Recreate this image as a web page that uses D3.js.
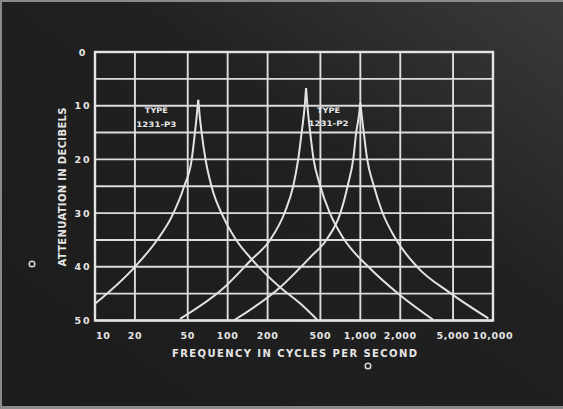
<!DOCTYPE html>
<html>
<head>
<meta charset="utf-8">
<script src="https://cdn.jsdelivr.net/npm/d3@7"></script>
<style>
  html, body { margin: 0; padding: 0; background: #cfcfcf; }
  svg { display: block; }
  text { font-family: "DejaVu Sans", "Liberation Sans", sans-serif; font-weight: bold; fill: #e6e6e6; }
</style>
</head>
<body>
<svg id="chart" width="563" height="409"></svg>
<script>
// ---- Data (frequency in c/s, attenuation in dB) ----
const xTickValues = [10, 20, 50, 100, 200, 500, 1000, 2000, 5000, 10000];
const xTickLabels = ["10", "20", "50", "100", "200", "500", "1,000", "2,000", "5,000", "10,000"];
const yTickValues = [0, 10, 20, 30, 40, 50];
const yTickLabels = ["0", "10", "20", "30", "40", "50"];
const yGridValues = [0, 5, 10, 15, 20, 25, 30, 35, 40, 45, 50];

// Type 1231-P3 (peak near 60 c/s)
const curveP3 = [
  [10.1, 46.8], [20.0, 40.0], [29.4, 35.0], [37.8, 30.7], [47.0, 25.0],
  [53.5, 20.1], [56.6, 15.1], [58.4, 12.0], [60.0, 8.9],
  [61.6, 12.0], [63.7, 15.1], [68.2, 20.1], [75.7, 25.1], [92.6, 30.7],
  [116, 35.0], [152, 38.6], [248, 43.8], [351, 46.8], [475, 49.9]
];
// middle curve (peak near 390 c/s)
const curveMid = [
  [43.7, 49.7], [92.7, 44.0], [152, 38.6], [209, 35.0], [271, 29.7],
  [313, 24.8], [341, 19.8], [362, 14.8], [381, 10.0], [390, 6.7],
  [399, 10.0], [418, 14.8], [443, 19.8], [497, 24.8], [582, 29.7],
  [745, 34.7], [1150, 40.0], [1996, 45.3], [3557, 49.9]
];
// Type 1231-P2 (peak near 1,000 c/s)
const curveP2 = [
  [111, 50.0], [249, 43.8], [420, 38.2], [554, 35.0], [707, 30.0],
  [805, 24.8], [886, 19.8], [933, 14.8], [974, 12.0], [1000, 9.5],
  [1026, 12.0], [1059, 14.8], [1123, 19.8], [1260, 24.8], [1458, 29.7],
  [1836, 34.7], [2677, 40.0], [4773, 44.9], [9230, 49.6]
];
const seriesList = [curveP3, curveMid, curveP2];

const annotationLines = [
  { line1: "TYPE", line2: "1231-P3", f: 29, db: 11.4 },
  { line1: "TYPE", line2: "1231-P2", f: 576, db: 11.3 }
];

// ---- Drawing ----
const svg = d3.select("#chart");
const W = 563, H = 409;
const plot = { left: 95, right: 493, top: 52, bottom: 320.5 };

const defs = svg.append("defs");
const grad = defs.append("linearGradient").attr("id", "bg")
  .attr("x1", "0").attr("y1", "1").attr("x2", "1").attr("y2", "0");
grad.append("stop").attr("offset", "0").attr("stop-color", "#1c1c1c");
grad.append("stop").attr("offset", "0.6").attr("stop-color", "#202020");
grad.append("stop").attr("offset", "1").attr("stop-color", "#3a3a3a");
const blur = defs.append("filter").attr("id", "soft");
blur.append("feGaussianBlur").attr("stdDeviation", 0.45);

svg.append("rect").attr("x", 0).attr("y", 0).attr("width", W).attr("height", H).attr("fill", "#8a8a8a");
svg.append("rect").attr("x", 2).attr("y", 2).attr("width", W - 2).attr("height", H - 5).attr("fill", "url(#bg)");

const x = d3.scaleLog().domain([10, 10000]).range([plot.left, plot.right]);
const y = d3.scaleLinear().domain([0, 50]).range([plot.top, plot.bottom]);

const g = svg.append("g").attr("filter", "url(#soft)");
const lineColor = "#dcdcdc";

// grid
g.append("g").selectAll("line.v").data(xTickValues).join("line")
  .attr("x1", d => x(d)).attr("x2", d => x(d))
  .attr("y1", plot.top).attr("y2", plot.bottom)
  .attr("stroke", lineColor).attr("stroke-width", 1.9);
g.append("g").selectAll("line.h").data(yGridValues).join("line")
  .attr("x1", plot.left).attr("x2", plot.right)
  .attr("y1", d => y(d)).attr("y2", d => y(d))
  .attr("stroke", lineColor).attr("stroke-width", 1.9);
g.append("rect").attr("x", plot.left).attr("y", plot.top)
  .attr("width", plot.right - plot.left).attr("height", plot.bottom - plot.top)
  .attr("fill", "none").attr("stroke", "#e4e4e4").attr("stroke-width", 2.4);

// curves: each branch drawn separately so the peaks stay pointed
const line = d3.line().x(d => x(d[0])).y(d => y(d[1])).curve(d3.curveMonotoneX);
seriesList.forEach(s => {
  let pk = 0;
  s.forEach((d, i) => { if (d[1] < s[pk][1]) pk = i; });
  [s.slice(0, pk + 1), s.slice(pk)].forEach(branch => {
    g.append("path").attr("d", line(branch))
      .attr("fill", "none").attr("stroke", "#e2e2e2").attr("stroke-width", 2);
  });
});

// x tick labels
svg.append("g").selectAll("text").data(xTickValues).join("text")
  .attr("x", (d, i) => i === 0 ? x(d) + 1 : x(d))
  .attr("y", 339)
  .attr("text-anchor", (d, i) => i === 0 ? "start" : "middle")
  .attr("font-size", 9.5)
  .attr("letter-spacing", 0.6)
  .text((d, i) => xTickLabels[i]);

// y tick labels
svg.append("g").selectAll("text").data(yTickValues).join("text")
  .attr("x", 83).attr("y", d => y(d) + 3.5)
  .attr("text-anchor", "middle")
  .attr("font-size", 9.5)
  .attr("letter-spacing", 2)
  .text((d, i) => yTickLabels[i]);

// axis titles
svg.append("text")
  .attr("x", 294.5).attr("y", 357)
  .attr("text-anchor", "middle")
  .attr("font-size", 10)
  .attr("textLength", 245).attr("lengthAdjust", "spacing")
  .text("FREQUENCY IN CYCLES PER SECOND");
svg.append("text")
  .attr("transform", "translate(66,187) rotate(-90)")
  .attr("text-anchor", "middle")
  .attr("font-size", 10)
  .attr("textLength", 159).attr("lengthAdjust", "spacing")
  .text("ATTENUATION IN DECIBELS");

// annotations
annotationLines.forEach(a => {
  const cx = x(a.f), cy = y(a.db);
  svg.append("text").attr("x", cx).attr("y", cy)
    .attr("text-anchor", "middle").attr("font-size", 7.5)
    .attr("textLength", 23).attr("lengthAdjust", "spacingAndGlyphs").text(a.line1);
  svg.append("text").attr("x", cx).attr("y", cy + 13.5)
    .attr("text-anchor", "middle").attr("font-size", 7.5)
    .attr("textLength", 40).attr("lengthAdjust", "spacingAndGlyphs").text(a.line2);
});

// photo punch marks
[[32, 264], [368, 366]].forEach(p => {
  svg.append("circle").attr("cx", p[0]).attr("cy", p[1]).attr("r", 2.8)
    .attr("fill", "none").attr("stroke", "#d8d8d8").attr("stroke-width", 1.5);
});
</script>
</body>
</html>
